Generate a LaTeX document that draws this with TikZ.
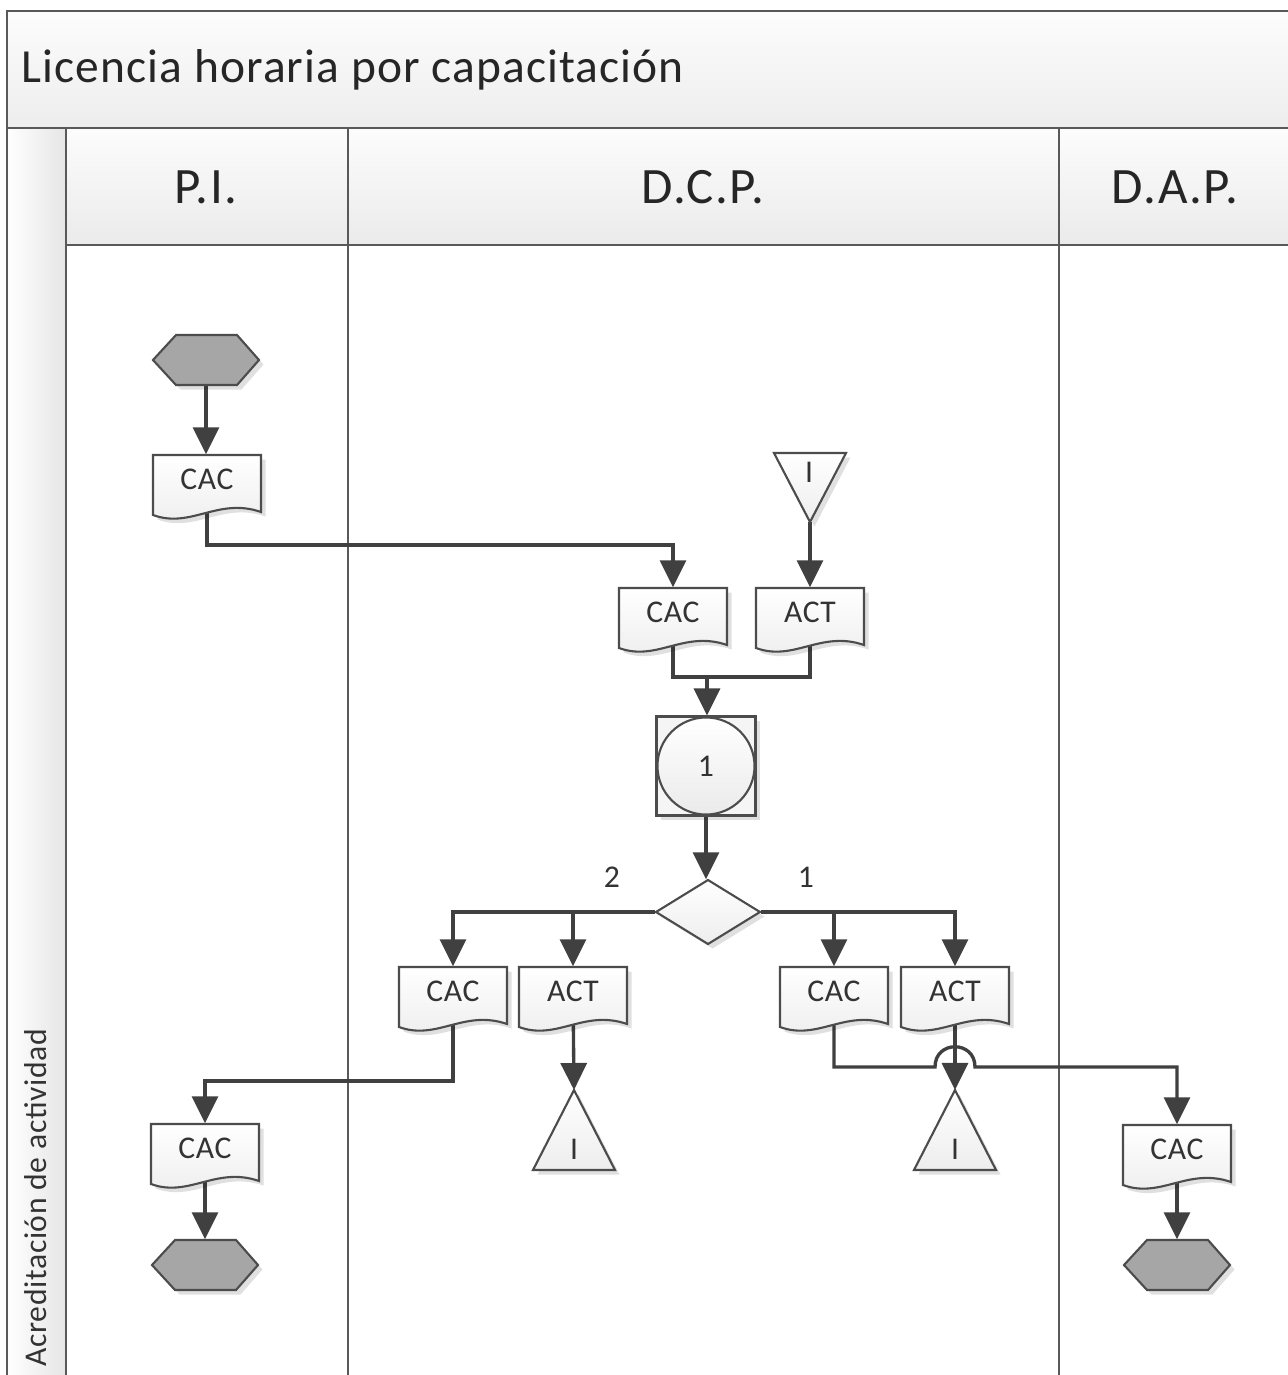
\documentclass[tikz,border=0pt]{standalone}
\usepackage{fontspec}
\setmainfont{Carlito}
\usetikzlibrary{arrows.meta,shadows,calc}
\pgfdeclarelayer{bgtwo}\pgfdeclarelayer{bgone}
\pgfsetlayers{bgtwo,bgone,main}
\tikzset{
 conn/.style={draw=black!75, line width=0.95pt},
 arr/.style={conn, -{Triangle[length=0.27cm,width=0.26cm]}},
 laneline/.style={draw=black!65, line width=0.7pt},
 shsty/.style={drop shadow={shadow xshift=0.045cm, shadow yshift=-0.045cm, fill=black, opacity=0.12}},
 docshape/.style={draw=black!70, line width=0.6pt, top color=white, bottom color=black!7, shsty},
 hexshape/.style={draw=black!70, line width=0.6pt, fill=black!35, shsty},
 trishape/.style={draw=black!70, line width=0.6pt, top color=white, bottom color=black!7, shsty},
 doctext/.style={inner sep=0pt, minimum width=1.08cm, minimum height=0.48cm, font=\fontsize{9}{10}\selectfont\addfontfeatures{LetterSpace=2}, text=black!80},
 smalltext/.style={inner sep=0pt, font=\fontsize{9}{10}\selectfont\addfontfeatures{LetterSpace=2}, text=black!80},
 titletext/.style={inner sep=0pt, font=\fontsize{13.5}{15}\selectfont\addfontfeatures{LetterSpace=2.3}, text=black!85},
 headtext/.style={inner sep=0pt, font=\fontsize{14.5}{16}\selectfont\addfontfeatures{LetterSpace=3}, text=black!85},
 emptynode/.style={inner sep=0pt, draw=none},
}
\newcommand\mydoc[4]{%
 \draw[docshape] (#2-54,#3) -- (#2+54,#3) -- (#2+54,#3+57) .. controls (#2+11,#3+42) and (#2-16,#3+74) .. (#2-54,#3+60) -- cycle;
 \node[doctext] (#1) at (#2,#3+24) {#4};}
\newcommand\myhex[3]{%
 \draw[hexshape] (#2-53,#3) -- (#2-30,#3-25) -- (#2+31,#3-25) -- (#2+53,#3) -- (#2+31,#3+25) -- (#2-30,#3+25) -- cycle;
 \node[emptynode, minimum width=1.06cm, minimum height=0.5cm] (#1) at (#2,#3) {};}
\newcommand\mytridown[3]{%
 \draw[trishape] (#2-36,#3) -- (#2+36,#3) -- (#2,#3+69) -- cycle;
 \node[smalltext] (#1) at (#2-1,#3+19) {I};
 \coordinate (#1-tip) at (#2,#3+69);}
\newcommand\mytriup[3]{%
 \draw[trishape] (#2-41,#3) -- (#2+41,#3) -- (#2,#3-80) -- cycle;
 \node[smalltext] (#1) at (#2,#3-21) {I};
 \coordinate (#1-tip) at (#2,#3-80);}
\begin{document}
\begin{tikzpicture}[x=0.01cm,y=-0.01cm]
\useasboundingbox (0,0) rectangle (1287,1375);
\clip (0,0) rectangle (1287,1375);
% ---------- swimlane frame ----------
\begin{pgfonlayer}{bgtwo}
 \fill[white] (0,0) rectangle (1287,1375);
 \shade[top color=black!1, bottom color=black!7] (7,11) rectangle (1300,128);
 \shade[top color=black!1, bottom color=black!8] (66,128) rectangle (1300,245);
 \shade[left color=white, right color=black!10] (7,128) rectangle (66,1390);
 \draw[laneline] (7,1390) -- (7,11) -- (1300,11);
 \draw[laneline] (7,128) -- (1300,128);
 \draw[laneline] (66,245) -- (1300,245);
 \draw[laneline] (66,128) -- (66,1390);
 \draw[laneline] (348,128) -- (348,1390);
 \draw[laneline] (1059,128) -- (1059,1390);
\end{pgfonlayer}
\node[titletext, anchor=west] (title) at (21,70) {Licencia horaria por capacitación};
\node[headtext] (hpi) at (206,187) {P.I.};
\node[headtext] (hdcp) at (703,187) {D.C.P.};
\node[headtext] (hdap) at (1175,187) {D.A.P.};
\node[smalltext, rotate=90, anchor=west] (lanelbl) at (36,1367) {Acreditación de actividad};
% ---------- shapes ----------
\myhex{start}{206}{360}
\mydoc{cacA}{207}{455}{CAC}
\mytridown{triA}{810}{453}
\mydoc{cacB}{673}{588}{CAC}
\mydoc{actA}{810}{588}{ACT}
\node[draw=black!70, line width=0.6pt, fill=black!4, minimum size=0.99cm, inner sep=0pt, shsty] (sq) at (706,766) {};
\node[circle, draw=black!70, line width=0.6pt, top color=white, bottom color=black!8, minimum size=0.97cm, inner sep=0pt, smalltext] (proc) at (706,766) {1};
\draw[trishape] (656,912) -- (708,880) -- (760,912) -- (708,944) -- cycle;
\node[emptynode, minimum width=1.04cm, minimum height=0.64cm] (dia) at (708,912) {};
\node[smalltext] (lbltwo) at (612,877) {2};
\node[smalltext] (lblone) at (806,877) {1};
\mydoc{cacC}{453}{967}{CAC}
\mydoc{actB}{573}{967}{ACT}
\mydoc{cacD}{834}{967}{CAC}
\mydoc{actC}{955}{967}{ACT}
\mytriup{triB}{574}{1170}
\mytriup{triC}{955}{1170}
\mydoc{cacE}{205}{1124}{CAC}
\mydoc{cacF}{1177}{1125}{CAC}
\myhex{endA}{205}{1265}
\myhex{endB}{1177}{1265}
\coordinate (joinA) at (707,677);
\coordinate (jumpL) at (935,1067);
\coordinate (jumpR) at (975,1067);
% ---------- connectors ----------
\begin{pgfonlayer}{bgone}
 \draw[arr] (start.center) -- (cacA.north -| start.center);
 \draw[arr] (cacA.center) -- ++(0,66) -| (cacB.north);
 \draw[arr] (triA-tip) -- (actA.north);
 \draw[conn] (cacB.center) |- (joinA);
 \draw[conn] (actA.center) |- (joinA);
 \draw[arr] (joinA) -- (sq.north -| joinA);
 \draw[arr] (sq.south) -- (dia.north -| sq.south);
 \draw[arr] (dia.west) -| (cacC.north);
 \draw[arr] (dia.west) -| (actB.north);
 \draw[arr] (dia.east) -| (cacD.north);
 \draw[arr] (dia.east) -| (actC.north);
 \draw[arr] (cacC.center) -- ++(0,90) -| (cacE.north);
 \draw[arr] (actB.center) -- (triB-tip);
 \draw[arr] (actC.center) -- (triC-tip);
 \draw[arr] (cacD.center) |- (jumpL) .. controls (935,1040) and (975,1040) .. (jumpR) -| (cacF.north);
 \draw[arr] (cacE.center) -- (endA.north);
 \draw[arr] (cacF.center) -- (endB.north);
\end{pgfonlayer}
\end{tikzpicture}
\end{document}
